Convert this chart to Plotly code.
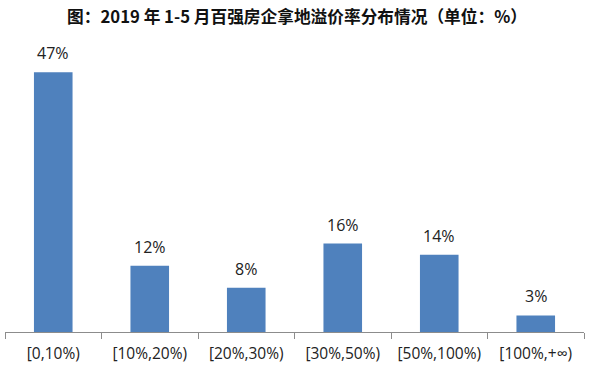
import plotly.graph_objects as go

categories = ["[0,10%)", "[10%,20%)", "[20%,30%)", "[30%,50%)", "[50%,100%)", "[100%,+∞)"]
values = [47, 12, 8, 16, 14, 3]
labels = [f"{v}%" for v in values]
title = "图：2019 年 1-5 月百强房企拿地溢价率分布情况（单位：%）"

fig = go.Figure(go.Bar(
    x=categories, y=values,
    marker=dict(color="#4F81BD", line=dict(width=0)),
    width=0.4,
))
for c, v, t in zip(categories, values, labels):
    fig.add_annotation(x=c, y=v, text=t, showarrow=False, yanchor="middle", yshift=19,
                       font=dict(size=16, color="#222222", family="Open Sans, Noto Sans CJK SC"))
fig.update_layout(
    width=594, height=368,
    margin=dict(l=5, r=10, t=40, b=36),
    plot_bgcolor="white", paper_bgcolor="white",
    showlegend=False,
    title=dict(text="<b>" + title + "</b>", x=0.5, xanchor="center", y=1 - 17 / 368, yanchor="middle",
               font=dict(size=16.7, color="#111111", family="Noto Sans CJK SC")),
    xaxis=dict(showline=True, linecolor="#8c8c8c", linewidth=1, ticks="outside",
               tickson="boundaries", ticklen=6, tickcolor="#8c8c8c", automargin=False,
               ticklabelstandoff=7,
               tickfont=dict(size=15.5, color="#222222", family="Open Sans, Noto Sans CJK SC"),
               showgrid=False),
    yaxis=dict(visible=False, range=[0, 52.85], showgrid=False),
)
fig.write_html("out.html", config={"displayModeBar": False},
               post_script="document.body.style.margin='0';")
